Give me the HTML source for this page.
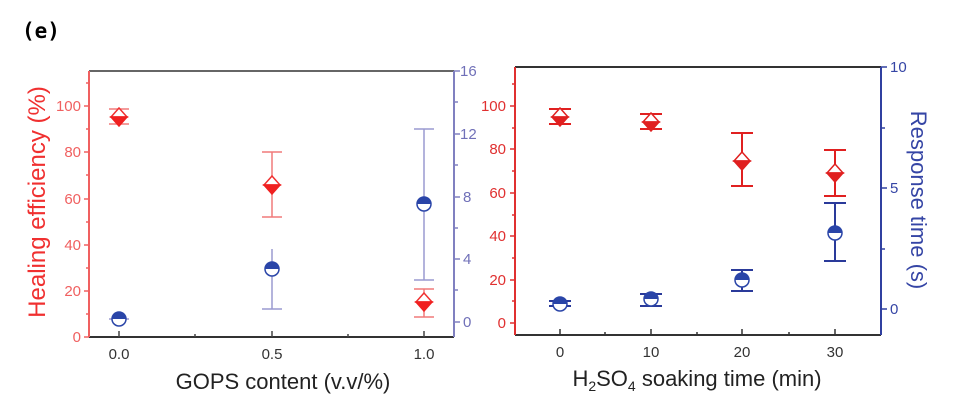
<!DOCTYPE html>
<html><head><meta charset="utf-8"><style>
body{margin:0;background:#fff;}
svg{display:block;font-family:"Liberation Sans",sans-serif;}
</style></head><body>
<svg width="960" height="405" viewBox="0 0 960 405" xmlns="http://www.w3.org/2000/svg">
<defs>
<g id="dL"><path d="M-8,0 L0,-9 L8,0 Z" fill="#fff" stroke="#f03030" stroke-width="1.5"/><path d="M-8,0 L0,9 L8,0 Z" fill="#f02020" stroke="#f02020" stroke-width="1.5"/></g>
<g id="dR"><path d="M-8,0 L0,-9 L8,0 Z" fill="#fff" stroke="#e02020" stroke-width="1.5"/><path d="M-8,0 L0,9 L8,0 Z" fill="#e02020" stroke="#e02020" stroke-width="1.5"/></g>
<g id="cL"><path d="M-7,0 A7,7 0 0 1 7,0 Z" fill="#2a45a8"/><path d="M-7,0 A7,7 0 0 0 7,0 Z" fill="#fff"/><circle r="7" fill="none" stroke="#2a45a8" stroke-width="1.5"/></g>
</defs>
<text x="22" y="38" font-family="'DejaVu Sans Mono',monospace" font-weight="bold" font-size="21">(e)</text>

<!-- LEFT PLOT -->
<g>
<line x1="89" y1="71" x2="454" y2="71" stroke="#666" stroke-width="2"/>
<line x1="89" y1="337" x2="454" y2="337" stroke="#333" stroke-width="2"/>
<line x1="89" y1="71" x2="89" y2="337" stroke="#f06060" stroke-width="2"/>
<line x1="454" y1="71" x2="454" y2="337" stroke="#8080c0" stroke-width="2"/>
<g stroke="#f06060" stroke-width="1.5">
<line x1="84" y1="337" x2="89" y2="337"/><line x1="84" y1="291" x2="89" y2="291"/><line x1="84" y1="245" x2="89" y2="245"/><line x1="84" y1="199" x2="89" y2="199"/><line x1="84" y1="152" x2="89" y2="152"/><line x1="84" y1="106" x2="89" y2="106"/>
<line x1="86" y1="314" x2="89" y2="314"/><line x1="86" y1="268" x2="89" y2="268"/><line x1="86" y1="222" x2="89" y2="222"/><line x1="86" y1="175" x2="89" y2="175"/><line x1="86" y1="129" x2="89" y2="129"/><line x1="86" y1="83" x2="89" y2="83"/>
</g>
<g fill="#f06060" font-size="15" text-anchor="end">
<text x="81" y="342">0</text><text x="81" y="296">20</text><text x="81" y="250">40</text><text x="81" y="204">60</text><text x="81" y="157">80</text><text x="81" y="111">100</text>
</g>
<g stroke="#8080c0" stroke-width="1.5">
<line x1="454" y1="322" x2="460" y2="322"/><line x1="454" y1="259" x2="460" y2="259"/><line x1="454" y1="197" x2="460" y2="197"/><line x1="454" y1="134" x2="460" y2="134"/><line x1="454" y1="71" x2="460" y2="71"/>
<line x1="454" y1="290" x2="458" y2="290"/><line x1="454" y1="228" x2="458" y2="228"/><line x1="454" y1="165" x2="458" y2="165"/><line x1="454" y1="102" x2="458" y2="102"/>
</g>
<g fill="#7070b8" font-size="15">
<text x="463" y="327">0</text><text x="463" y="264">4</text><text x="463" y="202">8</text><text x="460" y="139">12</text><text x="460" y="76">16</text>
</g>
<g stroke="#444" stroke-width="1.5">
<line x1="119" y1="337" x2="119" y2="331"/><line x1="272" y1="337" x2="272" y2="331"/><line x1="424" y1="337" x2="424" y2="331"/>
<line x1="195" y1="337" x2="195" y2="334"/><line x1="348" y1="337" x2="348" y2="334"/>
</g>
<g fill="#333" font-size="15" text-anchor="middle">
<text x="119" y="359">0.0</text><text x="272" y="359">0.5</text><text x="424" y="359">1.0</text>
</g>
<text x="283" y="389" font-size="22" text-anchor="middle" fill="#222">GOPS content (v.v/%)</text>
<text transform="translate(45,202) rotate(-90)" font-size="24" text-anchor="middle" fill="#f03030">Healing efficiency (%)</text>
<g stroke="#f07a7a" stroke-width="1.5">
<line x1="119" y1="109" x2="119" y2="124"/><line x1="109" y1="109" x2="129" y2="109"/><line x1="109" y1="124" x2="129" y2="124"/>
<line x1="272" y1="152" x2="272" y2="217"/><line x1="262" y1="152" x2="282" y2="152"/><line x1="262" y1="217" x2="282" y2="217"/>
<line x1="424" y1="289" x2="424" y2="317"/><line x1="414" y1="289" x2="434" y2="289"/><line x1="414" y1="317" x2="434" y2="317"/>
</g>
<g stroke="#9a9ad0" stroke-width="1.5">
<line x1="109" y1="319" x2="129" y2="319"/>
<line x1="272" y1="249" x2="272" y2="309"/><line x1="262" y1="309" x2="282" y2="309"/>
<line x1="424" y1="129" x2="424" y2="280"/><line x1="414" y1="129" x2="434" y2="129"/><line x1="414" y1="280" x2="434" y2="280"/>
</g>
<use href="#dL" x="119" y="117"/><use href="#dL" x="272" y="185"/><use href="#dL" x="424" y="302"/>
<use href="#cL" x="119" y="319"/><use href="#cL" x="272" y="269"/><use href="#cL" x="424" y="204"/>
</g>

<!-- RIGHT PLOT -->
<g>
<line x1="515" y1="67" x2="881" y2="67" stroke="#333" stroke-width="2"/>
<line x1="515" y1="335" x2="881" y2="335" stroke="#333" stroke-width="2"/>
<line x1="515" y1="67" x2="515" y2="335" stroke="#e03030" stroke-width="2"/>
<line x1="881" y1="67" x2="881" y2="335" stroke="#3040a0" stroke-width="2"/>
<g stroke="#e03030" stroke-width="1.5">
<line x1="510" y1="323" x2="515" y2="323"/><line x1="510" y1="280" x2="515" y2="280"/><line x1="510" y1="236" x2="515" y2="236"/><line x1="510" y1="193" x2="515" y2="193"/><line x1="510" y1="149" x2="515" y2="149"/><line x1="510" y1="106" x2="515" y2="106"/>
<line x1="512" y1="301" x2="515" y2="301"/><line x1="512" y1="258" x2="515" y2="258"/><line x1="512" y1="215" x2="515" y2="215"/><line x1="512" y1="171" x2="515" y2="171"/><line x1="512" y1="128" x2="515" y2="128"/><line x1="512" y1="84" x2="515" y2="84"/>
</g>
<g fill="#e03030" font-size="15" text-anchor="end">
<text x="506" y="328">0</text><text x="506" y="285">20</text><text x="506" y="241">40</text><text x="506" y="198">60</text><text x="506" y="154">80</text><text x="506" y="111">100</text>
</g>
<g stroke="#3040a0" stroke-width="1.5">
<line x1="881" y1="309" x2="887" y2="309"/><line x1="881" y1="188" x2="887" y2="188"/><line x1="881" y1="67" x2="887" y2="67"/>
<line x1="881" y1="249" x2="885" y2="249"/><line x1="881" y1="128" x2="885" y2="128"/>
</g>
<g fill="#3545a5" font-size="15">
<text x="890" y="314">0</text><text x="890" y="193">5</text><text x="890" y="72">10</text>
</g>
<g stroke="#333" stroke-width="1.5">
<line x1="560" y1="335" x2="560" y2="329"/><line x1="651" y1="335" x2="651" y2="329"/><line x1="742" y1="335" x2="742" y2="329"/><line x1="835" y1="335" x2="835" y2="329"/>
<line x1="605" y1="335" x2="605" y2="332"/><line x1="697" y1="335" x2="697" y2="332"/><line x1="789" y1="335" x2="789" y2="332"/>
</g>
<g fill="#333" font-size="15" text-anchor="middle">
<text x="560" y="357">0</text><text x="651" y="357">10</text><text x="742" y="357">20</text><text x="835" y="357">30</text>
</g>
<text x="697" y="386" font-size="22" text-anchor="middle" fill="#222">H<tspan font-size="14" dy="5">2</tspan><tspan dy="-5">SO</tspan><tspan font-size="14" dy="5">4</tspan><tspan dy="-5"> soaking time (min)</tspan></text>
<text transform="translate(911,200) rotate(90)" font-size="22" text-anchor="middle" fill="#3545a5">Response time (s)</text>
<g stroke="#e02020" stroke-width="2">
<line x1="560" y1="109" x2="560" y2="124"/><line x1="549" y1="109" x2="571" y2="109"/><line x1="549" y1="124" x2="571" y2="124"/>
<line x1="651" y1="114" x2="651" y2="129"/><line x1="640" y1="114" x2="662" y2="114"/><line x1="640" y1="129" x2="662" y2="129"/>
<line x1="742" y1="133" x2="742" y2="186"/><line x1="731" y1="133" x2="753" y2="133"/><line x1="731" y1="186" x2="753" y2="186"/>
<line x1="835" y1="150" x2="835" y2="196"/><line x1="824" y1="150" x2="846" y2="150"/><line x1="824" y1="196" x2="846" y2="196"/>
</g>
<g stroke="#2a3a9a" stroke-width="2">
<line x1="549" y1="301" x2="571" y2="301"/><line x1="549" y1="306" x2="571" y2="306"/>
<line x1="651" y1="294" x2="651" y2="306"/><line x1="640" y1="294" x2="662" y2="294"/><line x1="640" y1="306" x2="662" y2="306"/>
<line x1="742" y1="270" x2="742" y2="291"/><line x1="731" y1="270" x2="753" y2="270"/><line x1="731" y1="291" x2="753" y2="291"/>
<line x1="835" y1="203" x2="835" y2="261"/><line x1="824" y1="203" x2="846" y2="203"/><line x1="824" y1="261" x2="846" y2="261"/>
</g>
<use href="#dR" x="560" y="117"/><use href="#dR" x="651" y="122"/><use href="#dR" x="742" y="161"/><use href="#dR" x="835" y="173"/>
<use href="#cL" x="560" y="304"/><use href="#cL" x="651" y="299"/><use href="#cL" x="742" y="280"/><use href="#cL" x="835" y="233"/>
</g>
</svg>
</body></html>
